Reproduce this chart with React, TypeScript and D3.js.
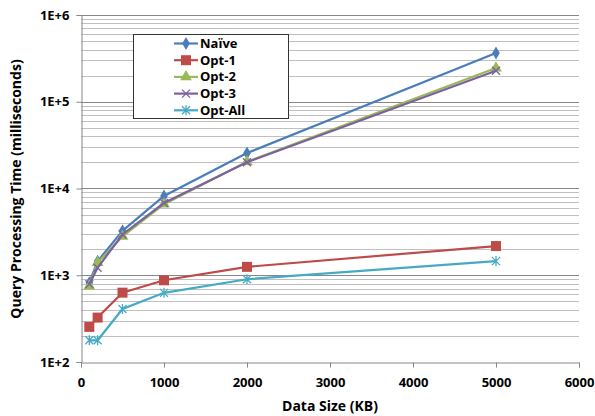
import { useRef, useEffect } from "react";
import * as d3 from "d3";

const SIZES = [100, 200, 500, 1000, 2000, 5000];
const NAIVE = [820, 1450, 3250, 8200, 25600, 365000];
const OPT1 = [254, 325, 630, 875, 1250, 2170];
const OPT2 = [750, 1400, 2800, 6600, 20300, 245000];
const OPT3 = [790, 1220, 2950, 6800, 20100, 228000];
const OPTALL = [178, 178, 408, 627, 900, 1455];

const SERIES = [
  { name: "Naïve", values: NAIVE, color: "#4a7ebb", marker: "diamond" },
  { name: "Opt-1", values: OPT1, color: "#be4b48", marker: "square" },
  { name: "Opt-2", values: OPT2, color: "#98b954", marker: "triangle" },
  { name: "Opt-3", values: OPT3, color: "#7d60a0", marker: "x" },
  { name: "Opt-All", values: OPTALL, color: "#46aac5", marker: "star" },
];

const X_TICKS = [0, 1000, 2000, 3000, 4000, 5000, 6000];
const Y_TICKS = [100, 1000, 10000, 100000, 1000000];
const Y_LABELS = ["1E+2", "1E+3", "1E+4", "1E+5", "1E+6"];

const FONT = "'Open Sans', Lato, sans-serif";

function drawMarker(g: d3.Selection<SVGGElement, unknown, null, undefined>, kind: string, x: number, y: number, color: string) {
  if (kind === "diamond") {
    g.append("path")
      .attr("d", d3.symbol(d3.symbolDiamond, 50)())
      .attr("transform", `translate(${x},${y})`)
      .attr("fill", color);
  } else if (kind === "square") {
    g.append("rect")
      .attr("x", x - 5)
      .attr("y", y - 5)
      .attr("width", 10)
      .attr("height", 10)
      .attr("fill", color);
  } else if (kind === "triangle") {
    g.append("path")
      .attr("d", d3.symbol(d3.symbolTriangle, 60)())
      .attr("transform", `translate(${x},${y})`)
      .attr("fill", color);
  } else if (kind === "x") {
    g.append("path")
      .attr("d", `M${x - 4},${y - 4}L${x + 4},${y + 4}M${x - 4},${y + 4}L${x + 4},${y - 4}`)
      .attr("stroke", color)
      .attr("stroke-width", 1.3);
  } else {
    g.append("path")
      .attr("d", `M${x - 4},${y - 4}L${x + 4},${y + 4}M${x - 4},${y + 4}L${x + 4},${y - 4}M${x},${y - 5}L${x},${y + 5}`)
      .attr("stroke", color)
      .attr("stroke-width", 1.3);
  }
}

export default function App() {
  const svgRef = useRef<SVGSVGElement>(null);

  useEffect(() => {
    if (!svgRef.current) return;
    const svg = d3.select(svgRef.current);
    svg.selectAll("*").remove();

    const left = 81;
    const right = 579;
    const top = 15;
    const bottom = 362;

    const x = d3.scaleLinear().domain([0, 6000]).range([left, right]);
    const y = d3.scaleLog().domain([100, 1000000]).range([bottom, top]);

    svg.append("rect").attr("width", 595).attr("height", 416).attr("fill", "#fff");

    // Minor gridlines
    const minor: number[] = [];
    for (let d = 2; d < 6; d++) {
      for (let k = 2; k <= 9; k++) minor.push(k * Math.pow(10, d));
    }
    svg.append("g")
      .selectAll("line")
      .data(minor)
      .enter()
      .append("line")
      .attr("x1", left)
      .attr("x2", right)
      .attr("y1", (d) => Math.round(y(d)) + 0.5)
      .attr("y2", (d) => Math.round(y(d)) + 0.5)
      .attr("stroke", "#c0c0c0")
      .attr("stroke-width", 1);

    // Major gridlines
    svg.append("g")
      .selectAll("line")
      .data(Y_TICKS.slice(1))
      .enter()
      .append("line")
      .attr("x1", left)
      .attr("x2", right)
      .attr("y1", (d) => Math.round(y(d)) + 0.5)
      .attr("y2", (d) => Math.round(y(d)) + 0.5)
      .attr("stroke", "#888")
      .attr("stroke-width", 1);

    // Axes
    svg.append("g")
      .attr("transform", `translate(${left + 0.5},0)`)
      .call(d3.axisLeft(y).tickValues(Y_TICKS).tickSize(5).tickFormat((_, i) => Y_LABELS[i]))
      .call((g) => g.selectAll("path,line").attr("stroke", "#888"))
      .call((g) =>
        g.selectAll("text")
          .attr("x", -12)
          .attr("fill", "#000")
          .style("font", `bold 13px ${FONT}`)
      );

    svg.append("g")
      .attr("transform", `translate(0,${bottom + 0.5})`)
      .call(d3.axisBottom(x).tickValues(X_TICKS).tickSize(5).tickFormat(d3.format("d")))
      .call((g) => g.selectAll("path,line").attr("stroke", "#888"))
      .call((g) =>
        g.selectAll("text")
          .attr("y", 15)
          .attr("fill", "#000")
          .style("font", `bold 13px ${FONT}`)
      );

    // Axis titles
    svg.append("text")
      .attr("transform", `translate(21,189) rotate(-90)`)
      .attr("text-anchor", "middle")
      .style("font", `bold 14px ${FONT}`)
      .text("Query Processing Time (milliseconds)");

    svg.append("text")
      .attr("x", (left + right) / 2)
      .attr("y", 411)
      .attr("text-anchor", "middle")
      .style("font", `bold 14px ${FONT}`)
      .text("Data Size (KB)");

    // Series
    const line = d3.line<number>()
      .x((_, i) => x(SIZES[i]))
      .y((d) => y(d));

    SERIES.forEach((s) => {
      const g = svg.append("g");
      g.append("path")
        .attr("d", line(s.values))
        .attr("fill", "none")
        .attr("stroke", s.color)
        .attr("stroke-width", 2.2);
      s.values.forEach((v, i) => drawMarker(g, s.marker, x(SIZES[i]), y(v), s.color));
    });

    // Legend
    const lg = svg.append("g");
    lg.append("rect")
      .attr("x", 133.5)
      .attr("y", 34.5)
      .attr("width", 155)
      .attr("height", 84)
      .attr("fill", "#fff")
      .attr("stroke", "#333")
      .attr("stroke-width", 1);
    SERIES.forEach((s, i) => {
      const cy = 43.5 + i * 16.7;
      lg.append("line")
        .attr("x1", 174)
        .attr("x2", 198)
        .attr("y1", cy)
        .attr("y2", cy)
        .attr("stroke", s.color)
        .attr("stroke-width", 2.2);
      drawMarker(lg, s.marker, 186, cy, s.color);
      lg.append("text")
        .attr("x", 200)
        .attr("y", cy)
        .attr("dy", "0.35em")
        .style("font", `bold 13px ${FONT}`)
        .text(s.name);
    });
  }, []);

  return (
    <svg
      ref={svgRef}
      width={595}
      height={416}
      style={{ position: "absolute", left: 0, top: 0 }}
    />
  );
}
